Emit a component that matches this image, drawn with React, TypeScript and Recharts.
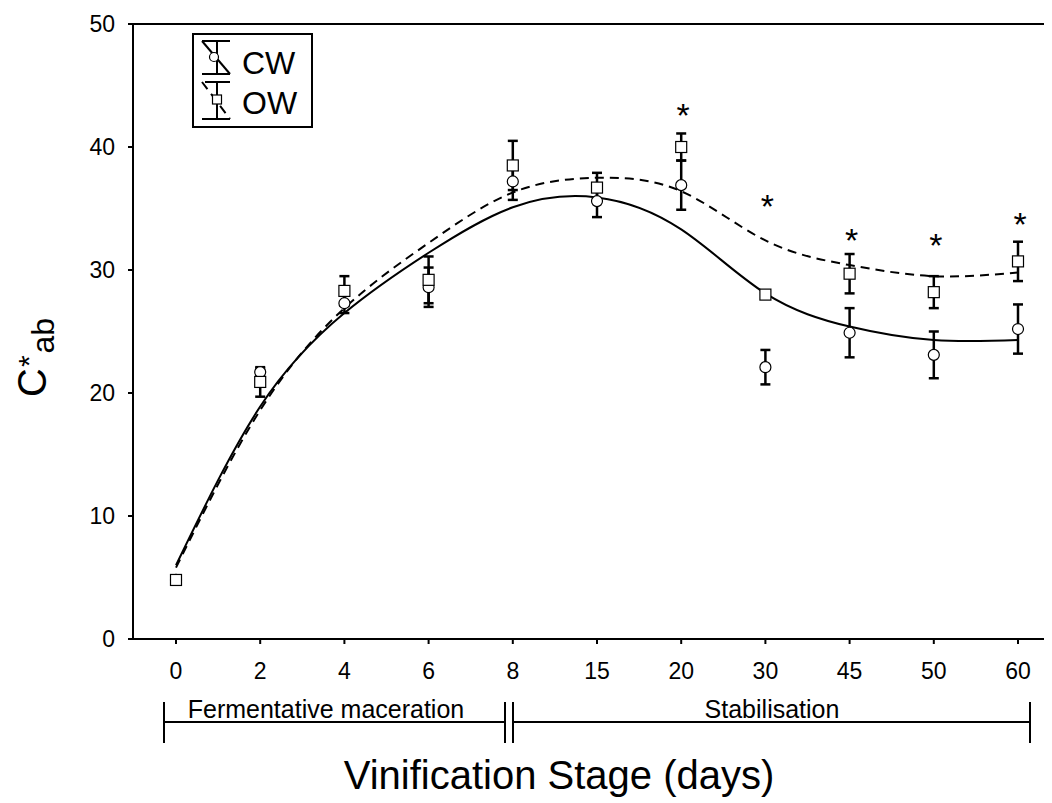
import React from "react";
import {
  ComposedChart,
  Line,
  XAxis,
  YAxis,
  ErrorBar,
  ReferenceLine,
  Legend,
} from "recharts";

// vinification stage (days)
const days = ["0", "2", "4", "6", "8", "15", "20", "30", "45", "50", "60"];

// CW = control wine, OW = other wine
const cwMean = [4.8, 21.7, 27.3, 28.6, 37.2, 35.6, 36.9, 22.1, 24.9, 23.1, 25.2];
const cwErr = [null, 0.3, 0.8, 1.6, 1.5, 1.3, 2.0, 1.4, 2.0, 1.9, 2.0];
const owMean = [4.8, 20.9, 28.3, 29.2, 38.5, 36.7, 40.0, 28.0, 29.7, 28.2, 30.7];
const owErr = [null, 1.2, 1.2, 1.9, 2.0, 1.2, 1.1, 0.3, 1.6, 1.3, 1.6];

// fitted curves
const cwFit = [6.0, 18.9, 26.5, 31.4, 35.1, 35.9, 33.3, 28.1, 25.4, 24.3, 24.3];
const owFit = [5.8, 18.6, 26.9, 32.2, 36.3, 37.5, 36.4, 32.4, 30.4, 29.5, 29.8];

// significance markers
const stars = [null, null, null, null, null, null, 43.2, 35.8, 33.0, 32.6, 34.3];

const yTicks = [0, 10, 20, 30, 40, 50];

const FONT = "'Liberation Sans', Arial, sans-serif";

const data = days.map((d, i) => ({
  idx: i,
  day: d,
  cw: cwMean[i],
  cwErr: cwErr[i],
  ow: owMean[i],
  owErr: owErr[i],
  cwFit: cwFit[i],
  owFit: owFit[i],
  star: stars[i],
}));

function CircleDot(props: any) {
  const { cx, cy, index } = props;
  if (cx == null || cy == null) return <g key={`c${index}`} />;
  return <circle key={`c${index}`} cx={cx} cy={cy} r={5.5} fill="#fff" stroke="#000" strokeWidth={1.2} />;
}

function SquareDot(props: any) {
  const { cx, cy, index } = props;
  if (cx == null || cy == null) return <g key={`s${index}`} />;
  return (
    <rect key={`s${index}`} x={cx - 5.5} y={cy - 5.5} width={11} height={11} fill="#fff" stroke="#000" strokeWidth={1.2} />
  );
}

function StarDot(props: any) {
  const { cx, cy, index, value } = props;
  if (cx == null || cy == null || value == null) return <g key={`t${index}`} />;
  return (
    <text key={`t${index}`} x={cx + 2} y={cy + 19} textAnchor="middle" fontSize={34} fontFamily={FONT} fill="#000">
      *
    </text>
  );
}

function LegendBox() {
  return (
    <svg width={122} height={96} style={{ display: "block" }}>
      <rect x={1} y={1} width={119} height={93} fill="#fff" stroke="#000" strokeWidth={2} />
      {/* CW */}
      <line x1={10} y1={8} x2={38} y2={8} stroke="#000" strokeWidth={2} />
      <line x1={10} y1={41} x2={38} y2={41} stroke="#000" strokeWidth={2} />
      <line x1={25} y1={8} x2={25} y2={41} stroke="#000" strokeWidth={2} />
      <line x1={10} y1={8} x2={38} y2={41} stroke="#000" strokeWidth={2} />
      <circle cx={22} cy={24} r={4.5} fill="#fff" stroke="#000" strokeWidth={1.2} />
      <text x={50} y={41} fontSize={32} fontFamily={FONT} fill="#000">CW</text>
      {/* OW */}
      <line x1={13} y1={49} x2={38} y2={49} stroke="#000" strokeWidth={2} />
      <line x1={10} y1={86} x2={38} y2={86} stroke="#000" strokeWidth={2} />
      <line x1={25} y1={49} x2={25} y2={86} stroke="#000" strokeWidth={2} />
      <line x1={10} y1={49} x2={38} y2={86} stroke="#000" strokeWidth={2} strokeDasharray="9 6" />
      <rect x={20.5} y={62} width={9} height={9} fill="#fff" stroke="#000" strokeWidth={1.2} />
      <text x={50} y={81} fontSize={32} fontFamily={FONT} fill="#000">OW</text>
    </svg>
  );
}

export default function App() {
  const W = 1042;
  const H = 790;
  return (
    <div style={{ position: "relative", width: W, height: H, fontFamily: FONT }}>
      <ComposedChart width={W} height={H} data={data} margin={{ top: 16, right: 0, left: 0, bottom: 119 }}>
        <XAxis
          dataKey="idx"
          type="number"
          domain={[-0.5107, 10.38]}
          ticks={days.map((_, i) => i)}
          tickFormatter={(v: number) => days[v]}
          allowDataOverflow
          height={40}
          tickSize={5}
          tickMargin={19}
          axisLine={{ stroke: "#000", strokeWidth: 2 }}
          tickLine={{ stroke: "#000", strokeWidth: 2 }}
          tick={{ fontSize: 23, fill: "#000", fontFamily: FONT }}
        />
        <YAxis
          type="number"
          domain={[0, 50]}
          ticks={yTicks}
          width={125}
          tickSize={5}
          tickMargin={13}
          axisLine={{ stroke: "#000", strokeWidth: 2 }}
          tickLine={{ stroke: "#000", strokeWidth: 2 }}
          tick={{ fontSize: 23, fill: "#000", fontFamily: FONT }}
        />
        <ReferenceLine y={50} stroke="#000" strokeWidth={2} />
        <Legend
          layout="vertical"
          align="center"
          verticalAlign="middle"
          wrapperStyle={{ left: 184, top: 25, width: 122, height: 96 }}
          content={() => <LegendBox />}
        />
        <Line dataKey="cwFit" type="natural" stroke="#000" strokeWidth={2} dot={false} activeDot={false} isAnimationActive={false} legendType="none" />
        <Line dataKey="owFit" type="natural" stroke="#000" strokeWidth={2} strokeDasharray="9 6" dot={false} activeDot={false} isAnimationActive={false} legendType="none" />
        <Line dataKey="cw" stroke="none" dot={CircleDot} activeDot={false} isAnimationActive={false}>
          <ErrorBar dataKey="cwErr" direction="y" width={5} strokeWidth={2.5} stroke="#000" isAnimationActive={false} />
        </Line>
        <Line dataKey="ow" stroke="none" dot={SquareDot} activeDot={false} isAnimationActive={false}>
          <ErrorBar dataKey="owErr" direction="y" width={5} strokeWidth={2.5} stroke="#000" isAnimationActive={false} />
        </Line>
        <Line dataKey="star" stroke="none" dot={StarDot} activeDot={false} isAnimationActive={false} connectNulls={false} />
      </ComposedChart>
      <svg width={W} height={H} style={{ position: "absolute", left: 0, top: 0, pointerEvents: "none" }}>
        {/* y axis title */}
        <text transform="translate(38,389) rotate(-90)" fontSize={40} fontFamily={FONT} fill="#000">
          C
          <tspan fontSize={30} dx={1} dy={-7}>*</tspan>
          <tspan fontSize={32} dx={2} dy={15}>ab</tspan>
        </text>
        {/* stage brackets */}
        <g stroke="#000" strokeWidth={2}>
          <line x1={156} y1={714} x2={497} y2={714} />
          <line x1={156} y1={694} x2={156} y2={735} />
          <line x1={497} y1={694} x2={497} y2={735} />
          <line x1={505} y1={714} x2={1022} y2={714} />
          <line x1={505} y1={694} x2={505} y2={735} />
          <line x1={1022} y1={694} x2={1022} y2={735} />
        </g>
        <text x={318} y={710} textAnchor="middle" fontSize={25} fontFamily={FONT} fill="#000">
          Fermentative maceration
        </text>
        <text x={764} y={710} textAnchor="middle" fontSize={25} fontFamily={FONT} fill="#000">
          Stabilisation
        </text>
        <text x={551} y={781} textAnchor="middle" fontSize={40} fontFamily={FONT} fill="#000">
          Vinification Stage (days)
        </text>
      </svg>
    </div>
  );
}
